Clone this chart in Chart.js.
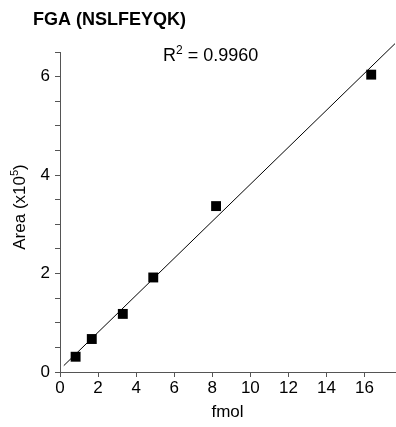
<!DOCTYPE html>
<html>
<head>
<meta charset="utf-8">
<script src="https://cdn.jsdelivr.net/npm/chart.js@4/dist/chart.umd.min.js"></script>
<style>
  html, body { margin: 0; padding: 0; background: #fff; }
  #wrap { width: 396px; height: 427px; position: relative; }
</style>
</head>
<body>
<div id="wrap"><canvas id="calChart"></canvas></div>
<script>
// calibration points
const fmolValues = [0.82, 1.67, 3.3, 4.9, 8.2, 16.35];
const areaValues = [0.31, 0.67, 1.18, 1.92, 3.37, 6.04];

// ends of the fitted line
const fitX = [0.2, 17.6];
const fitY = [0.13, 6.67];

const xTickValues = [0, 2, 4, 6, 8, 10, 12, 14, 16];
const yTickValues = [0, 0.5, 1, 1.5, 2, 2.5, 3, 3.5, 4, 4.5, 5, 5.5, 6, 6.5];
const yLabelValues = [0, 2, 4, 6];

const chartTitle = "FGA (NSLFEYQK)";
const rSquared = "0.9960";

const FONT = '"Liberation Sans", Arial, sans-serif';
const AXIS_GREY = "#555";

// title, R2 note and y axis title (need superscripts so drawn by hand)
const textPlugin = {
  id: "calText",
  afterDraw(chart) {
    const ctx = chart.ctx;
    ctx.save();
    ctx.fillStyle = "#000";
    ctx.textBaseline = "alphabetic";
    ctx.textAlign = "left";

    ctx.font = "bold 18px " + FONT;
    ctx.fillText(chartTitle, 33, 25);

    // R^2 = ...
    let x = 163, y = 61;
    ctx.font = "18px " + FONT;
    ctx.fillText("R", x, y);
    x += ctx.measureText("R").width;
    ctx.font = "12px " + FONT;
    ctx.fillText("2", x, y - 7);
    x += ctx.measureText("2").width;
    ctx.font = "18px " + FONT;
    ctx.fillText(" = " + rSquared, x, y);

    // y axis title, rotated
    ctx.translate(25, 207);
    ctx.rotate(-Math.PI / 2);
    const a = "Area (x10", sup = "5", b = ")";
    ctx.font = "17px " + FONT;
    const wa = ctx.measureText(a).width, wb = ctx.measureText(b).width;
    ctx.font = "11px " + FONT;
    const ws = ctx.measureText(sup).width;
    let sx = -(wa + ws + wb) / 2;
    ctx.font = "17px " + FONT;
    ctx.fillText(a, sx, 0);
    sx += wa;
    ctx.font = "11px " + FONT;
    ctx.fillText(sup, sx, -7);
    sx += ws;
    ctx.font = "17px " + FONT;
    ctx.fillText(b, sx, 0);
    ctx.restore();
  }
};

new Chart(document.getElementById("calChart"), {
  type: "scatter",
  data: {
    datasets: [
      {
        label: "points",
        data: fmolValues.map((v, i) => ({ x: v, y: areaValues[i] })),
        pointStyle: "rect",
        pointRadius: 7,
        pointHoverRadius: 7,
        backgroundColor: "#000",
        borderWidth: 0
      },
      {
        label: "fit",
        type: "line",
        data: fitX.map((v, i) => ({ x: v, y: fitY[i] })),
        borderColor: "#000",
        borderWidth: 1,
        pointRadius: 0,
        fill: false,
        clip: false
      }
    ]
  },
  options: {
    responsive: true,
    maintainAspectRatio: false,
    animation: false,
    layout: { autoPadding: false, padding: { left: 0, right: 1, top: 52, bottom: 0 } },
    plugins: { legend: { display: false }, tooltip: { enabled: false } },
    scales: {
      x: {
        type: "linear",
        min: 0,
        max: 17.6,
        afterBuildTicks: s => { s.ticks = xTickValues.map(v => ({ value: v })); },
        afterFit: s => { s.height = 55; s.paddingLeft = 0; s.paddingRight = 0; },
        ticks: { color: "#000", font: { family: FONT, size: 17 }, padding: 1, maxRotation: 0, autoSkip: false },
        grid: { drawOnChartArea: false, drawTicks: true, tickLength: 5, tickColor: AXIS_GREY },
        border: { color: AXIS_GREY, width: 1 },
        title: { display: true, text: "fmol", color: "#000", font: { family: FONT, size: 17 }, padding: { top: 0, bottom: 4 } }
      },
      y: {
        type: "linear",
        min: 0,
        max: 6.5,
        afterBuildTicks: s => { s.ticks = yTickValues.map(v => ({ value: v })); },
        afterFit: s => { s.width = 60; s.paddingTop = 0; s.paddingBottom = 0; },
        ticks: {
          color: "#000",
          font: { family: FONT, size: 17 },
          padding: 5,
          autoSkip: false,
          callback: v => (yLabelValues.includes(v) ? String(v) : "")
        },
        grid: { drawOnChartArea: false, drawTicks: true, tickLength: 5, tickColor: AXIS_GREY },
        border: { color: AXIS_GREY, width: 1 }
      }
    }
  },
  plugins: [textPlugin]
});
</script>
</body>
</html>
